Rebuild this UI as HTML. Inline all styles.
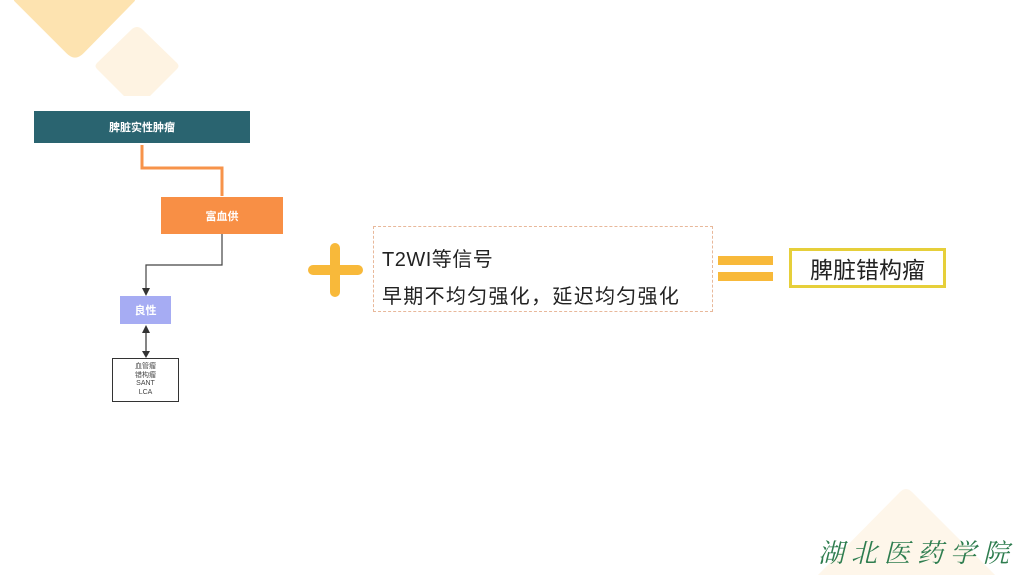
<!DOCTYPE html>
<html style="width:1024px;height:575px;overflow:hidden"><head><meta charset="utf-8"><style>
body{margin:0;width:1024px;height:575px;overflow:hidden;background:#fff;position:relative;font-family:"Liberation Sans","Noto Sans CJK SC",sans-serif}
.a{position:absolute;box-sizing:border-box}
.c{display:flex;align-items:center;justify-content:center}
</style></head><body>
<svg class="a" style="left:0;top:0" width="1024" height="575">
<path d="M16,0 L133,0 L82,52 Q75,59 68,52 Z" fill="#fde3b0" stroke="#fde3b0" stroke-width="4" stroke-linejoin="round"/>
<path d="M124,96 L97,69 Q94,66 97,63 L132,29 Q137,25 142,29 L177,63 Q180,66 177,69 L150,96 Z" fill="#fef3e2"/>
<path d="M818,575 L900,492 Q906,486 912,492 L995,575 Z" fill="#fef6ea"/>
<polyline points="142,145 142,168 222,168 222,196" fill="none" stroke="#f7934a" stroke-width="3"/>
<polyline points="222,234 222,265 146,265 146,290" fill="none" stroke="#444" stroke-width="1.2"/>
<polygon points="142,288 150,288 146,296" fill="#333"/>
<line x1="146" y1="330" x2="146" y2="354" stroke="#333" stroke-width="1.2"/>
<polygon points="142,333 150,333 146,325" fill="#333"/>
<polygon points="142,351 150,351 146,358" fill="#333"/>
</svg>
<div class="a" style="left:818px;top:537px;height:30px;line-height:30px;font-size:26px;color:#2e7d4f;font-style:italic;letter-spacing:7px;white-space:nowrap;font-family:'Noto Serif CJK SC',serif">湖北医药学院</div>

<div class="a c" style="left:34px;top:111px;width:216px;height:32px;background:#2a6470;color:#fff;font-size:11px;font-weight:bold">脾脏实性肿瘤</div>
<div class="a c" style="left:161px;top:197px;width:122px;height:37px;background:#f88f45;color:#fff;font-size:11px;font-weight:bold">富血供</div>
<div class="a c" style="left:120px;top:296px;width:51px;height:28px;background:#a6acf3;color:#fff;font-size:11px;font-weight:bold">良性</div>
<div class="a c" style="left:112px;top:358px;width:67px;height:44px;border:1px solid #333;font-size:7px;line-height:8.5px;color:#444;text-align:center">血管瘤<br>错构瘤<br>SANT<br>LCA</div>

<div class="a" style="left:308px;top:265px;width:55px;height:10px;background:#f8b93a;border-radius:5px"></div>
<div class="a" style="left:330px;top:243px;width:10px;height:54px;background:#f8b93a;border-radius:5px"></div>
<div class="a" style="left:373px;top:226px;width:340px;height:86px;border:1px dashed #e8b89a"></div>
<div class="a" style="left:382px;top:243px;font-size:20px;color:#222;white-space:nowrap;letter-spacing:0.5px">T2WI等信号</div>
<div class="a" style="left:382px;top:280px;font-size:20px;color:#222;white-space:nowrap;letter-spacing:1.3px">早期不均匀强化，延迟均匀强化</div>
<div class="a" style="left:718px;top:256px;width:55px;height:9px;background:#f8b93a"></div>
<div class="a" style="left:718px;top:272px;width:55px;height:9px;background:#f8b93a"></div>
<div class="a c" style="left:789px;top:248px;width:157px;height:40px;border:3px solid #e6cf3a;font-size:23px;color:#222">脾脏错构瘤</div>
</body></html>
